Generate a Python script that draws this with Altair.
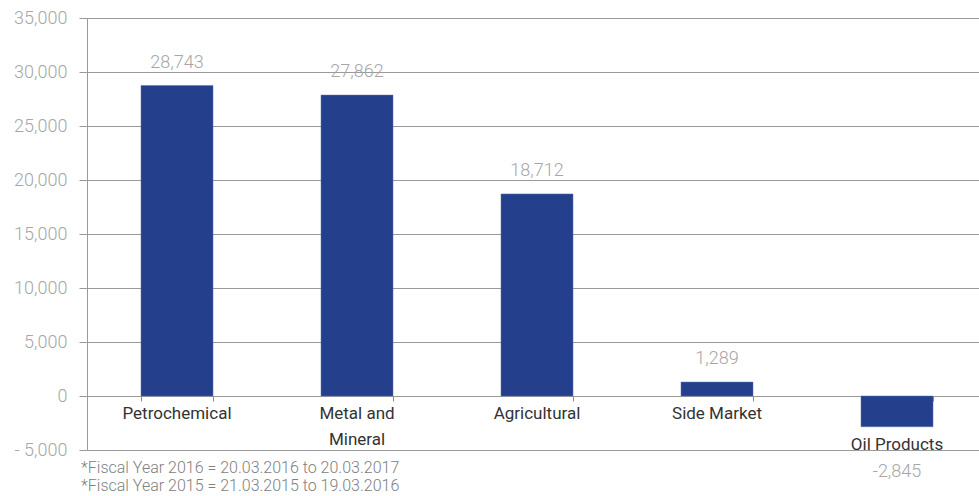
import altair as alt
import pandas as pd

categories = ["Petrochemical", "Metal and Mineral", "Agricultural", "Side Market", "Oil Products"]
display_labels = ["Petrochemical", "Metal and\nMineral", "Agricultural", "Side Market", "Oil Products"]
values = [28743, 27862, 18712, 1289, -2845]
y_ticks = [-5000, 0, 5000, 10000, 15000, 20000, 25000, 30000, 35000]
notes = ["*Fiscal Year 2016 = 20.03.2016 to 20.03.2017",
         "*Fiscal Year 2015 = 21.03.2015 to 19.03.2016"]

df = pd.DataFrame({"cat": categories, "label": display_labels, "value": values})

FONT = "Roboto"
GRAY = "#a6a6a6"
LINE = "#9a9a9a"
BAR = "#243f8c"

xenc = alt.X("cat:N", sort=categories,
             scale=alt.Scale(range=[0, 900], paddingInner=0.6, paddingOuter=0.3),
             axis=alt.Axis(title="", labels=False, domain=False, grid=False,
                           ticks=True, tickBand="extent", tickSize=5, tickWidth=1,
                           tickColor="#8a8a8a", offset=-54, orient="bottom"))

yaxis = alt.Axis(title="", values=y_ticks, grid=True, gridColor=LINE,
                 gridWidth=1, domainColor=LINE, tickColor=LINE,
                 tickSize=8, labelPadding=12, labelFontSize=18,
                 labelFont=FONT, labelFontWeight=300, labelColor=GRAY,
                 labelExpr="datum.value < 0 ? '- ' + format(abs(datum.value), ',') : format(datum.value, ',')")
yscale = alt.Scale(domain=[-5000, 35000], nice=False)

base = alt.Chart(df).transform_calculate(
    txt="(datum.value < 0 ? '-' : '') + format(abs(datum.value), ',')",
    catpos="min(datum.value, 0)",
    negpos="-5000",
)

bars = base.mark_bar(color=BAR, stroke="#5a6ea8", strokeWidth=0.5).encode(
    x=xenc, y=alt.Y("value:Q", scale=yscale, axis=yaxis))

pos_labels = base.transform_filter("datum.value >= 0").mark_text(
    font=FONT, fontWeight=300, fontSize=18, color=GRAY, baseline="alphabetic", dy=-18
).encode(x=xenc, y=alt.Y("value:Q", scale=yscale, axis=yaxis), text="txt:N")

neg_labels = base.transform_filter("datum.value < 0").mark_text(
    font=FONT, fontWeight=300, fontSize=18, color=GRAY, baseline="alphabetic", dy=27
).encode(x=xenc, y=alt.Y("negpos:Q", scale=yscale, axis=yaxis), text="txt:N")

cat_labels = base.mark_text(
    font=FONT, fontSize=17, color="#333333", baseline="alphabetic", dy=23,
    lineBreak="\n", lineHeight=26
).encode(x=xenc, y=alt.Y("catpos:Q", scale=yscale, axis=yaxis), text="label:N")

note_df = pd.DataFrame({"note": ["\n".join(notes)]})
footnote = alt.Chart(note_df).mark_text(
    font=FONT, fontWeight=300, fontSize=16, color="#808080", align="left",
    baseline="alphabetic", lineBreak="\n", lineHeight=18
).encode(x=alt.value(-6), y=alt.value(455), text="note:N")

chart = alt.layer(bars, pos_labels, neg_labels, cat_labels, footnote).properties(
    width=892, height=432,
    autosize=alt.AutoSizeParams(type="none"),
    padding={"left": 87, "top": 18, "right": 0, "bottom": 46},
).configure_view(stroke=None).configure(background="white")

chart.save("out.html", embed_options={"renderer": "svg", "actions": False})
